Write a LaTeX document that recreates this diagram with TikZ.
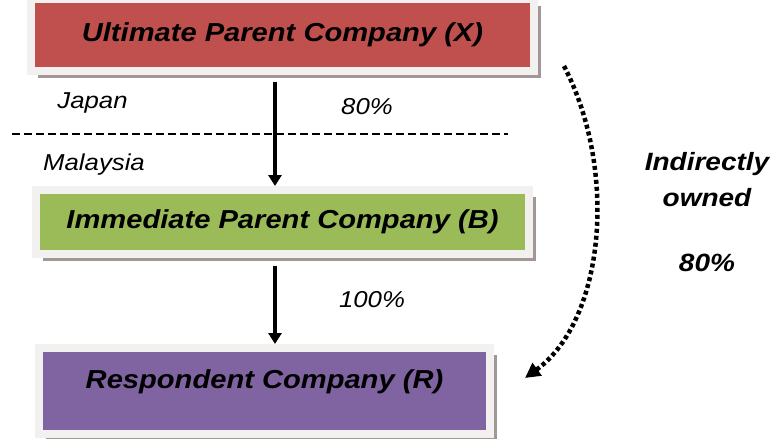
\documentclass[tikz,border=0pt]{standalone}
\usepackage{fontspec}
\setmainfont{Liberation Sans}
\usetikzlibrary{arrows.meta,shadows}
\definecolor{ultred}{HTML}{C0504D}
\definecolor{immgreen}{HTML}{9BBB59}
\definecolor{resppurple}{HTML}{8064A2}
\definecolor{rim}{HTML}{F3F0F0}
\definecolor{rimshade}{HTML}{A39696}
\newcommand{\wide}[1]{\scalebox{1.12}[1]{#1}}
\tikzset{
  company/.style={fill=#1, draw=rim, line width=8pt, inner sep=0pt,
    drop shadow={shadow xshift=7pt, shadow yshift=-7pt, fill=rimshade, opacity=1},
    font=\fontsize{26}{30}\selectfont\bfseries\itshape},
  place/.style={inner sep=0pt, font=\fontsize{23}{28}\selectfont\itshape},
  note/.style={inner sep=0pt, align=center, font=\fontsize{25}{36}\selectfont\bfseries\itshape},
  own/.style={line width=4pt, -{Triangle[length=11pt,width=13pt]}},
  indirect/.style={line width=4.5pt, dash pattern=on 4pt off 3pt, -{Triangle[length=15pt,width=15pt]}}
}
\begin{document}
\begin{tikzpicture}[x=1pt,y=-1pt]
  \useasboundingbox (0,0) rectangle (777,439);
  \node[place, fill=white, minimum width=115pt, minimum height=78pt] (p80) at (374,107) {};
  \node[place] (p80t) at (367,107) {\wide{80\%}};
  \draw[line width=1.3pt, dash pattern=on 8pt off 4pt] (12,134) -- (508,134);
  \node[company=ultred, minimum width=503pt, minimum height=72pt] (X) at (282.5,35)
    {\wide{Ultimate Parent Company (X)}};
  \node[company=immgreen, minimum width=493pt, minimum height=64pt] (B) at (282.5,222)
    {\wide{Immediate Parent Company (B)}};
  \node[company=resppurple, minimum width=451pt, minimum height=86pt, text height=18pt, text depth=24pt] (R) at (264.5,391)
    {\wide{Respondent Company (R)}};
  \node[place] (jp) at (92.5,103) {\wide{Japan}};
  \node[place] (my) at (94,165) {\wide{Malaysia}};
  \node[place] (p100) at (372,300) {\wide{100\%}};
  \node[note] (ind) at (707,180) {\wide{Indirectly}\\\wide{owned}};
  \node[note] (p80i) at (707,263) {\wide{80\%}};
  \begin{scope}[own]
    \draw ([xshift=-7.5pt,yshift=-7pt]X.south) -- ([xshift=-7.5pt]B.north);
    \draw ([xshift=-7.5pt,yshift=-8pt]B.south) -- ([xshift=10.5pt]R.north);
  \end{scope}
  \draw[indirect] ([xshift=26pt,yshift=9pt]X.south east) .. controls (618,170) and (605,320) .. ([xshift=31pt,yshift=13pt]R.east);
\end{tikzpicture}
\end{document}
